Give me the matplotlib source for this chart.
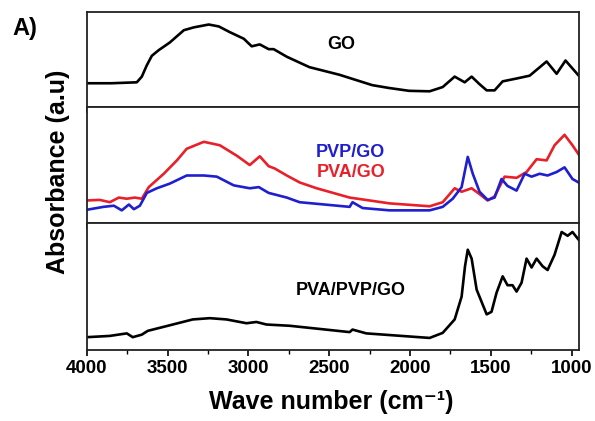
import numpy as np
import matplotlib.pyplot as plt
from matplotlib.ticker import MultipleLocator

plt.rcParams['font.family'] = ['Liberation Sans', 'DejaVu Sans']
plt.rcParams['font.weight'] = 'bold'

# =========================================================
# DATA (arbitrary absorbance units)
# =========================================================
go_wn = [4000, 3850, 3691, 3660, 3629, 3598, 3555, 3487, 3400, 3338,
         3246, 3184, 3116, 3029, 2980, 2930, 2875, 2844, 2763, 2623,
         2438, 2234, 2130, 2006, 1879, 1798, 1724, 1662, 1619, 1570,
         1526, 1477, 1427, 1341, 1260, 1155, 1093, 1038, 951]
go_abs = [0.25, 0.25, 0.26, 0.32, 0.44, 0.54, 0.60, 0.68, 0.81, 0.84,
          0.87, 0.85, 0.79, 0.72, 0.64, 0.66, 0.61, 0.61, 0.53, 0.42,
          0.34, 0.23, 0.20, 0.17, 0.165, 0.21, 0.32, 0.26, 0.32, 0.24,
          0.175, 0.175, 0.27, 0.30, 0.33, 0.48, 0.35, 0.49, 0.32]

pva_go_wn = [4000, 3920, 3858, 3802, 3753, 3703, 3660, 3617, 3524, 3443,
             3382, 3276, 3177, 3072, 2992, 2930, 2875, 2837, 2763, 2683,
             2578, 2374, 2127, 1879, 1798, 1724, 1681, 1619, 1570, 1520,
             1477, 1415, 1341, 1279, 1217, 1155, 1106, 1044, 995, 951]
pva_go_abs = [0.195, 0.20, 0.18, 0.22, 0.21, 0.22, 0.21, 0.31, 0.425, 0.54,
              0.64, 0.70, 0.67, 0.58, 0.50, 0.575, 0.49, 0.47, 0.41, 0.35,
              0.30, 0.22, 0.17, 0.145, 0.18, 0.30, 0.27, 0.30, 0.25, 0.195,
              0.23, 0.40, 0.39, 0.44, 0.55, 0.54, 0.67, 0.76, 0.67, 0.58]

pvp_go_wn = [4000, 3897, 3833, 3784, 3740, 3709, 3672, 3629, 3567, 3487,
             3382, 3276, 3196, 3091, 2992, 2936, 2875, 2763, 2683, 2374,
             2356, 2294, 2127, 1879, 1798, 1736, 1681, 1643, 1612, 1570,
             1520, 1477, 1434, 1397, 1341, 1291, 1248, 1198, 1149, 1093,
             1044, 995, 951]
pvp_go_abs = [0.115, 0.14, 0.15, 0.11, 0.16, 0.12, 0.15, 0.26, 0.30, 0.34,
              0.41, 0.41, 0.40, 0.325, 0.30, 0.31, 0.26, 0.22, 0.18, 0.14,
              0.18, 0.13, 0.11, 0.11, 0.14, 0.21, 0.31, 0.57, 0.425, 0.27,
              0.20, 0.22, 0.38, 0.32, 0.28, 0.425, 0.40, 0.425, 0.41, 0.44,
              0.48, 0.38, 0.345]

blend_wn = [4000, 3858, 3753, 3716, 3660, 3623, 3468, 3345, 3239, 3136,
            3012, 2951, 2889, 2745, 2374, 2356, 2271, 1879, 1798, 1724,
            1681, 1660, 1643, 1619, 1588, 1526, 1496, 1465, 1427, 1397,
            1366, 1341, 1310, 1279, 1248, 1217, 1180, 1149, 1106, 1062,
            1025, 995, 951]
blend_abs = [0.10, 0.11, 0.13, 0.10, 0.12, 0.15, 0.20, 0.24, 0.25, 0.24,
             0.21, 0.22, 0.20, 0.19, 0.14, 0.16, 0.13, 0.094, 0.134, 0.24,
             0.42, 0.66, 0.79, 0.72, 0.475, 0.28, 0.30, 0.45, 0.58, 0.51,
             0.51, 0.46, 0.53, 0.72, 0.65, 0.72, 0.66, 0.63, 0.75, 0.93,
             0.90, 0.93, 0.86]

RED = "#e8202a"
BLUE = "#1f1fcf"

# =========================================================
# FIGURE
# =========================================================
fig = plt.figure(figsize=(5.95, 4.21), dpi=100)
left, width = 0.146, 0.827
ax_go    = fig.add_axes([left, 0.746, width, 0.225])
ax_mix   = fig.add_axes([left, 0.470, width, 0.276])
ax_blend = fig.add_axes([left, 0.169, width, 0.301])

for ax in (ax_go, ax_mix, ax_blend):
    ax.set_xlim(4000, 955)
    ax.set_ylim(0, 1)
    ax.set_yticks([])
    ax.xaxis.set_major_locator(MultipleLocator(500))
    ax.xaxis.set_minor_locator(MultipleLocator(250))
    ax.tick_params(axis="x", which="major", direction="out", length=4, width=1.2,
                   top=False, labelsize=13.5, pad=3)
    ax.tick_params(axis="x", which="minor", direction="out", length=3, width=1.0,
                   top=False)
    for sp in ax.spines.values():
        sp.set_linewidth(1.3)
        sp.set_color("#222222")
    if ax is not ax_blend:
        ax.tick_params(axis="x", labelbottom=False)

LW = 1.9
ax_go.plot(go_wn, go_abs, color="black", lw=LW, solid_joinstyle="round")
ax_mix.plot(pva_go_wn, pva_go_abs, color=RED, lw=LW, solid_joinstyle="round")
ax_mix.plot(pvp_go_wn, pvp_go_abs, color=BLUE, lw=LW, solid_joinstyle="round")
ax_blend.plot(blend_wn, blend_abs, color="black", lw=LW, solid_joinstyle="round")

ax_go.text(2423, 0.66, "GO", ha="center", va="center", fontsize=13,
           fontweight="bold")
ax_mix.text(2367, 0.61, "PVP/GO", ha="center", va="center", fontsize=13,
            fontweight="bold", color=BLUE)
ax_mix.text(2367, 0.44, "PVA/GO", ha="center", va="center", fontsize=13,
            fontweight="bold", color=RED)
ax_blend.text(2367, 0.47, "PVA/PVP/GO", ha="center", va="center", fontsize=13,
              fontweight="bold")

for lab in ax_blend.get_xticklabels():
    lab.set_fontweight("bold")

fig.text(331 / 595, 1 - 402 / 421, "Wave number (cm\u207b\u00b9)",
         ha="center", va="center", fontsize=18, fontweight="bold")
fig.text(58 / 595, 1 - 172 / 421, "Absorbance (a.u)", rotation=90,
         ha="center", va="center", fontsize=18, fontweight="bold")
fig.text(25 / 595, 1 - 29 / 421, "A)", ha="center", va="center",
         fontsize=17, fontweight="bold")

plt.savefig("out.png", dpi=100)
plt.close()
